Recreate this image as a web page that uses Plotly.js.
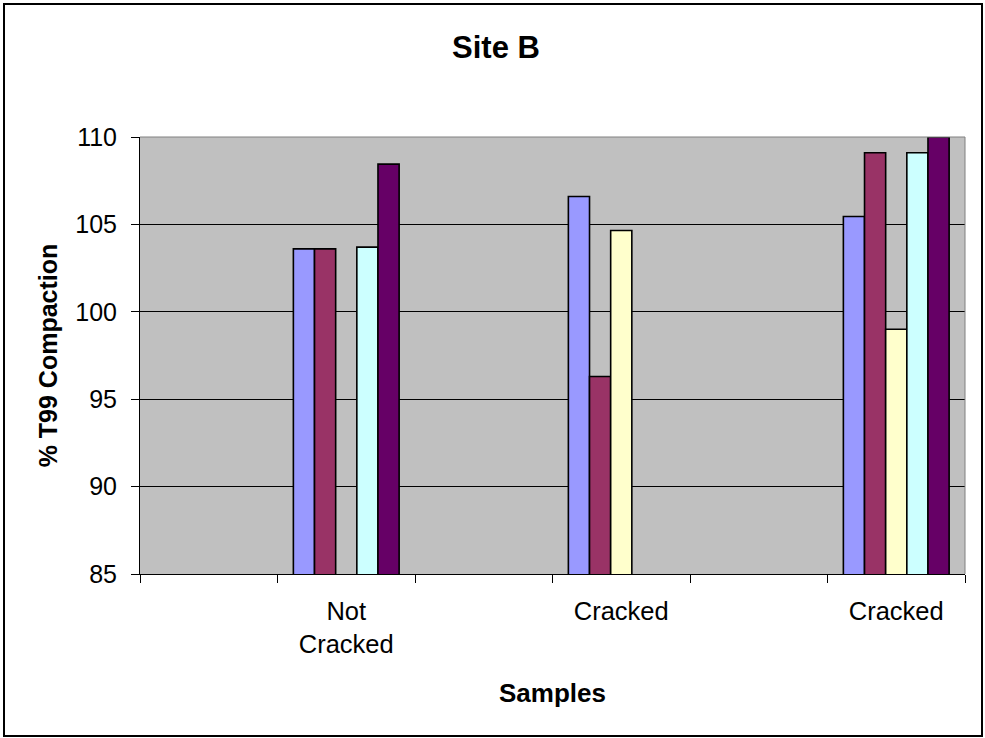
<!DOCTYPE html>
<html>
<head>
<meta charset="utf-8">
<script src="https://cdn.plot.ly/plotly-3.0.1.min.js"></script>
<style>
  html, body { margin: 0; padding: 0; background: #ffffff; }
  #chart { width: 985px; height: 738px; }
</style>
</head>
<body>
<div id="chart"></div>
<script>
// Sample slots along the category axis (labels shown under each group)
const sampleLabels = ["", "Not<br>Cracked", "", "Cracked", "", "Cracked"];
const slotIndex = [1, 2, 3, 4, 5, 6];

// % T99 compaction per test series (null = no reading)
const series1 = [null, 103.6, null, 106.6, null, 105.45];
const series2 = [null, 103.6, null, 96.3, null, 109.1];
const series3 = [null, null, null, 104.65, null, 99.0];
const series4 = [null, 103.7, null, null, null, 109.1];
const series5 = [null, 108.45, null, null, null, 110.0];

const seriesValues = [series1, series2, series3, series4, series5];
const seriesNames = ["Series 1", "Series 2", "Series 3", "Series 4", "Series 5"];
const seriesColors = ["#9999FF", "#993366", "#FFFFCC", "#CCFFFF", "#660066"];

const yTicks = [85, 90, 95, 100, 105, 110];
const slotEdges = [0.5, 1.5, 2.5, 3.5, 4.5, 5.5, 6.5];

const FONT = "Liberation Sans, Arial, Helvetica, sans-serif";

const traces = seriesValues.map((vals, i) => ({
  type: "bar",
  name: seriesNames[i],
  x: slotIndex,
  y: vals,
  marker: { color: seriesColors[i], line: { color: "#000000", width: 1.6 } },
  hoverinfo: "y"
}));

// Plot area geometry in pixels
const W = 985, H = 738;
const M = { l: 140, r: 20, t: 137, b: 164 };
const pw = W - M.l - M.r, ph = H - M.t - M.b;
const px = v => (v - M.l) / pw;          // pixel x -> paper x
const py = v => (H - M.b - v) / ph;      // pixel y -> paper y

const layout = {
  width: W,
  height: H,
  margin: M,
  paper_bgcolor: "#ffffff",
  plot_bgcolor: "#C0C0C0",
  showlegend: false,
  barmode: "group",
  bargap: 1.5 / 6.5,
  bargroupgap: 0,
  font: { family: FONT, color: "#000000", size: 25 },
  title: {
    text: "Site B",
    font: { family: FONT, size: 31, weight: "bold", color: "#000000" },
    x: 496 / W, xanchor: "center", xref: "container",
    y: 1 - 47 / H, yanchor: "middle", yref: "container"
  },
  xaxis: {
    range: [0.5, 6.5],
    tickmode: "array",
    tickvals: slotIndex,
    ticktext: sampleLabels,
    ticks: "",
    ticklabelstandoff: 14,
    tickfont: { family: FONT, size: 25.5, color: "#000000" },
    showgrid: false,
    zeroline: false,
    showline: true,
    linecolor: "#000000",
    linewidth: 1,
    minor: {
      tickmode: "array",
      tickvals: slotEdges,
      ticks: "outside",
      ticklen: 8,
      tickwidth: 1,
      tickcolor: "#000000",
      showgrid: false
    },
    title: {
      text: "Samples",
      font: { family: FONT, size: 26, weight: "bold", color: "#000000" },
      standoff: 27
    },
    fixedrange: true
  },
  yaxis: {
    range: [85, 110],
    tickmode: "array",
    tickvals: yTicks,
    ticks: "outside",
    ticklen: 8,
    tickwidth: 1,
    tickcolor: "#000000",
    ticklabelstandoff: 9,
    tickfont: { family: FONT, size: 25, color: "#000000" },
    showgrid: true,
    gridcolor: "#000000",
    gridwidth: 1,
    zeroline: false,
    showline: true,
    linecolor: "#000000",
    linewidth: 1,
    title: {
      text: "% T99 Compaction",
      font: { family: FONT, size: 25, weight: "bold", color: "#000000" },
      standoff: 10
    },
    fixedrange: true
  },
  shapes: [
    // plot area frame (top and right edges)
    { type: "line", xref: "paper", yref: "paper", x0: 0, x1: 1, y0: 1, y1: 1,
      line: { color: "#808080", width: 1 }, layer: "above" },
    { type: "line", xref: "paper", yref: "paper", x0: 1, x1: 1, y0: 0, y1: 1,
      line: { color: "#808080", width: 1 }, layer: "above" },
    // chart border
    { type: "rect", xref: "paper", yref: "paper",
      x0: px(4), x1: px(982), y0: py(736), y1: py(4),
      line: { color: "#000000", width: 2 }, fillcolor: "rgba(0,0,0,0)", layer: "above" }
  ]
};

Plotly.newPlot("chart", traces, layout, { displayModeBar: false, staticPlot: true });
</script>
</body>
</html>
